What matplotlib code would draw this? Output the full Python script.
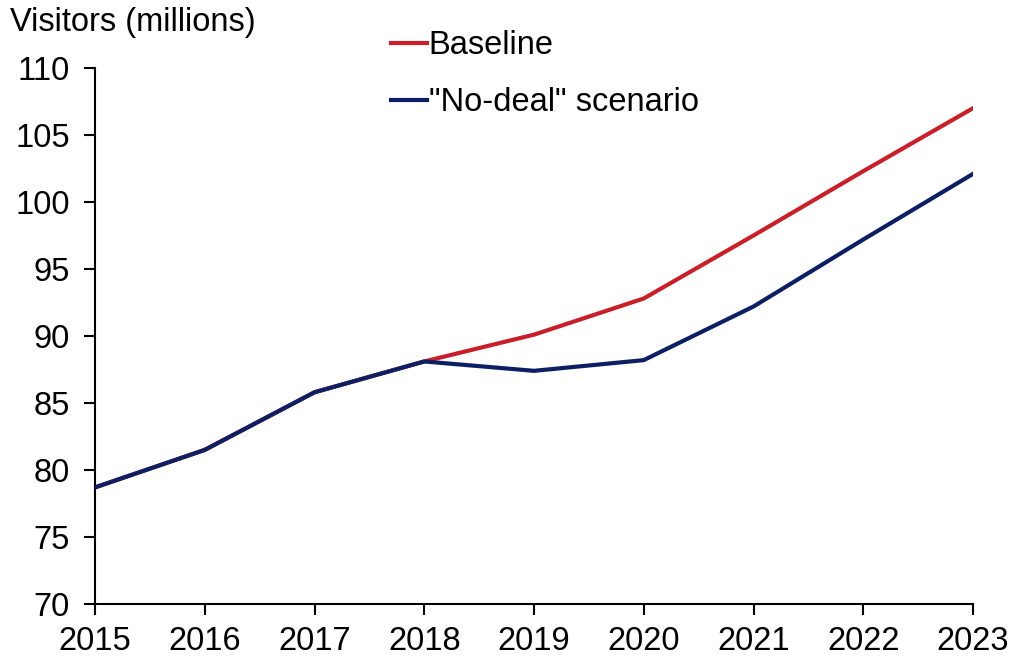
import matplotlib
matplotlib.use("Agg")
import matplotlib.pyplot as plt

years = [2015, 2016, 2017, 2018, 2019, 2020, 2021, 2022, 2023]
baseline = [78.7, 81.5, 85.8, 88.1, 90.1, 92.8, 97.5, 102.3, 107.0]
no_deal = [78.7, 81.5, 85.8, 88.1, 87.4, 88.2, 92.2, 97.2, 102.1]

plt.rcParams['font.family'] = ['Liberation Sans', 'DejaVu Sans']

fig = plt.figure(figsize=(10.17, 6.57), dpi=100)
ax = fig.add_axes([95 / 1017, 1 - 604 / 657, (973 - 95) / 1017, (604 - 68) / 657])

ax.plot(years, baseline, color='#C8202A', lw=3, label='Baseline', zorder=2)
ax.plot(years, no_deal, color='#0C1F63', lw=3, label='"No-deal" scenario', zorder=3)

ax.set_xlim(2015, 2023)
ax.set_ylim(70, 110)
ax.set_xticks(years)
ax.set_yticks(range(70, 111, 5))
ax.spines['top'].set_visible(False)
ax.spines['right'].set_visible(False)
for s in ('left', 'bottom'):
    ax.spines[s].set_linewidth(1.5)
ax.tick_params(direction='out', length=8, width=1.5, labelsize=23.5)
ax.tick_params(axis='y', pad=10)
ax.tick_params(axis='x', pad=8)

fig.text(10 / 1017, 1 - 22 / 657, 'Visitors (millions)', fontsize=23.5, va='center', ha='left')

leg = ax.legend(loc='upper left', bbox_to_anchor=(391 / 1017, 1 - 30 / 657),
                bbox_transform=fig.transFigure, frameon=False, fontsize=23.5,
                handlelength=1.1, handletextpad=0.05, labelspacing=0.8,
                borderpad=0, borderaxespad=0)

fig.savefig('out.png', dpi=100)
